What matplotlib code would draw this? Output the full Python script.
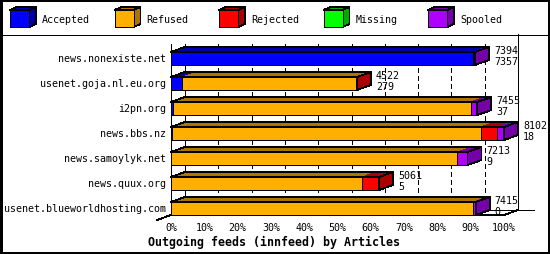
import matplotlib
matplotlib.use('Agg')
import matplotlib.pyplot as plt
from matplotlib.patches import Polygon, Rectangle
import numpy as np

hosts = ['news.nonexiste.net', 'usenet.goja.nl.eu.org', 'i2pn.org', 'news.bbs.nz',
         'news.samoylyk.net', 'news.quux.org', 'usenet.blueworldhosting.com']
offered = [7394, 4522, 7455, 8102, 7213, 5061, 7415]
accepted = [7357, 279, 37, 18, 9, 5, 0]
refused = [0, 4223, 7258, 7525, 6961, 4647, 7355]
rejected = [0, 20, 0, 389, 0, 409, 0]
missing = [0, 0, 0, 0, 0, 0, 0]
spooled = [37, 0, 160, 170, 243, 0, 60]

series = ['Accepted', 'Refused', 'Rejected', 'Missing', 'Spooled']
colors = ['#0000FF', '#FFAF00', '#FF0000', '#00FF00', '#AF00FF']
dark = ['#0000AA', '#AA7500', '#AA0000', '#00AA00', '#7500AA']
ticks = [0, 10, 20, 30, 40, 50, 60, 70, 80, 90, 100]
title = 'Outgoing feeds (innfeed) by Articles'

FONT = 'DejaVu Sans Mono'
FS = 7.2
LW = 0.6
W, H = 550, 255

fig = plt.figure(figsize=(5.5, 2.55), dpi=100)

# pixel layer for the frame and the legend
deco = fig.add_axes([0, 0, 1, 1])
deco.set_xlim(0, W)
deco.set_ylim(H, 0)
deco.axis('off')

# data layer: 0..100 % -> px 171..504, row i -> px 59.5 + 25*i
x0, x1 = 171, 504
pxu = (x1 - x0) / 100
y0, pitch = 59.5, 25
ax = fig.add_axes([0, 0, 1, 1])
ax.set_xlim(-x0 / pxu, (W - x0) / pxu)
ax.set_ylim((H - y0) / pitch, -y0 / pitch)
ax.axis('off')

dx = 14 / pxu
dy = 5 / pitch
bh = 13 / pitch


def py(p):
    return (p - y0) / pitch


# frame
deco.plot([1, W - 1.5, W - 1.5, 1, 1], [1, 1, H - 1.5, H - 1.5, 1], color='k', lw=0.8,
          antialiased=False)
deco.plot([0, W], [35.5, 35.5], color='k', lw=LW, antialiased=False)

# legend
for j, name in enumerate(series):
    lx = 10 + 104.5 * j
    deco.add_patch(Polygon([(lx, 11), (lx + 19, 11), (lx + 26, 8), (lx + 7, 8)],
                           fc=dark[j], ec='k', lw=LW, antialiased=False))
    deco.add_patch(Polygon([(lx + 19, 11), (lx + 26, 8), (lx + 26, 25), (lx + 19, 28)],
                           fc=dark[j], ec='k', lw=LW, antialiased=False))
    deco.add_patch(Rectangle((lx, 11), 19, 17, fc=colors[j], ec='k', lw=LW, antialiased=False))
    deco.text(lx + 32, 20, name, ha='left', va='center', family=FONT, fontsize=FS)

# back plane grid and floor
top, back_floor, front_floor = py(45), py(211), py(216)
for t in ticks[1:-1]:
    ax.plot([t + dx, t + dx], [top, back_floor], color='k', lw=LW, ls=(0, (5, 4)),
            antialiased=False, zorder=1)
ax.plot([dx, dx], [top, back_floor], color='k', lw=LW, antialiased=False, zorder=1)
ax.plot([100 + dx, 100 + dx], [py(35), back_floor], color='k', lw=LW, antialiased=False, zorder=1)
ax.plot([dx, 100 + dx + 16 / pxu], [back_floor, back_floor], color='k', lw=LW,
        antialiased=False, zorder=1)
ax.plot([-dx, dx], [front_floor + dy, back_floor], color='k', lw=LW, antialiased=False, zorder=1)
ax.plot([0, 100, 100 + dx], [front_floor, front_floor, back_floor], color='k', lw=LW,
        antialiased=False, zorder=1)
ax.plot([0, 0], [top, front_floor], color='k', lw=LW, antialiased=False, zorder=6)

# bars
data = np.array([accepted, refused, rejected, missing, spooled], dtype=float)
scale = 100 / max(offered)
for i, host in enumerate(hosts):
    yt = i - bh / 2
    left = 0
    last = 0
    for k in range(len(series)):
        if data[k, i] == 0:
            continue
        w = data[k, i] * scale
        ax.add_patch(Polygon([(left, yt), (left + w, yt), (left + w + dx, yt - dy), (left + dx, yt - dy)],
                             fc=dark[k], ec='none', antialiased=False, zorder=3))
        ax.barh(i, w, left=left, height=bh, color=colors[k], edgecolor='k', lw=LW,
                antialiased=False, zorder=4)
        left += w
        last = k
    ax.add_patch(Polygon([(0, yt), (left, yt), (left + dx, yt - dy), (dx, yt - dy)],
                         fill=False, ec='k', lw=LW, antialiased=False, zorder=5))
    ax.add_patch(Polygon([(left, yt), (left + dx, yt - dy), (left + dx, yt + bh - dy), (left, yt + bh)],
                         fc=dark[last], ec='k', lw=LW, antialiased=False, zorder=5))
    ax.text(-5 / pxu, i, host, ha='right', va='center', family=FONT, fontsize=FS)
    lx = left + dx + 5 / pxu
    ax.text(lx, i - 8 / pitch, str(offered[i]), ha='left', va='center',
            family=FONT, fontsize=FS, zorder=7)
    ax.text(lx, i + 2.5 / pitch, str(accepted[i]), ha='left', va='center',
            family=FONT, fontsize=FS, zorder=7)

for t in ticks:
    ax.text(t, py(228), f'{t}%', ha='center', va='center', family=FONT, fontsize=FS)

deco.text(274.5, 242, title, ha='center', va='center', family=FONT, fontsize=8.4, fontweight='bold')

fig.savefig('out.png', dpi=100)
